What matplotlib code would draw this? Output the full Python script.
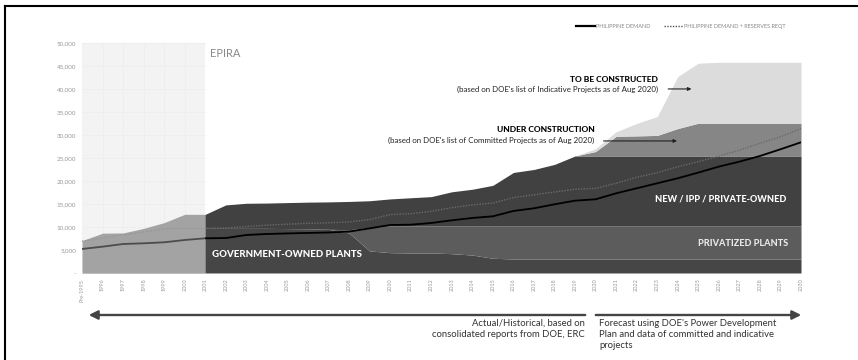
import numpy as np
import matplotlib.pyplot as plt
from matplotlib.lines import Line2D
from matplotlib.patches import Rectangle, FancyArrowPatch

plt.rcParams['font.family'] = ['Lato', 'DejaVu Sans']

# capacity / demand in MW
years = np.arange(1995, 2031)
pre_years = np.arange(1995, 2002)
post_years = np.arange(2001, 2031)

pre_epira_capacity = [7030, 8650, 8700, 9700, 10950, 12750, 12750]

government_owned = [9700, 9700, 9700, 9700, 9650, 9600, 9500, 8700, 4800, 4420,
                    4350, 4350, 4200, 3900, 3200, 3040, 3040, 3040, 3040, 3040,
                    3040, 3040, 3040, 3040, 3040, 3040, 3040, 3040, 3040, 3040]
privatized = [0, 0, 0, 0, 0, 0, 0, 700, 5100, 5800,
              5870, 5870, 6020, 6320, 7020, 7180, 7180, 7180, 7180, 7180,
              7180, 7180, 7180, 7180, 7180, 7180, 7180, 7180, 7180, 7180]
new_ipp = [3050, 5100, 5450, 5500, 5650, 5800, 5950, 6150, 5800, 5880,
           6130, 6380, 7430, 7980, 8830, 11630, 12280, 13380, 15210, 15210,
           15210, 15210, 15210, 15210, 15210, 15210, 15210, 15210, 15210, 15210]
under_construction = [0, 0, 0, 0, 0, 0, 0, 0, 0, 0,
                      0, 0, 0, 0, 0, 0, 0, 0, 0, 970,
                      4270, 4370, 4470, 5970, 7120, 7120, 7120, 7120, 7120, 7120]
to_be_constructed = [0, 0, 0, 0, 0, 0, 0, 0, 0, 0,
                     0, 0, 0, 0, 0, 0, 0, 0, 0, 600,
                     1000, 2700, 4100, 11300, 13050, 13250, 13250, 13250, 13250, 13250]

demand = [5220, 5720, 6300, 6450, 6670, 7170, 7540, 7600, 8260, 8480,
          8600, 8700, 8800, 9000, 9700, 10430, 10500, 10870, 11450, 11960,
          12320, 13480, 14060, 14930, 15720, 16020, 17320, 18410, 19500, 20590,
          21820, 23120, 24200, 25430, 26890, 28410]
demand_reserves = [6900, 7600, 8300, 8900, 9600, 9700, 9700, 9800, 10100, 10400,
                   10600, 10800, 10900, 11100, 11600, 12700, 12900, 13400, 14200, 14800,
                   15200, 16400, 17000, 17600, 18200, 18400, 19500, 20800, 21800, 23100,
                   24200, 25400, 26700, 28200, 29600, 31400]

x_labels = ['Pre-1995'] + [str(y) for y in range(1996, 2031)]

fig = plt.figure(figsize=(8.58, 3.6), dpi=100)
ax = fig.add_axes([0.0956, 0.2417, 0.838, 0.639])

# EPIRA background band with faint grid
ax.add_patch(Rectangle((1995, 0), 6, 50000, color='#efefef', zorder=0, lw=0))
for gy in range(5000, 50001, 5000):
    ax.plot([1995, 2001], [gy, gy], color='#e6e6e6', lw=0.5, zorder=0.5)
for gx in range(1996, 2001):
    ax.plot([gx, gx], [0, 50000], color='#e6e6e6', lw=0.5, zorder=0.5)

ax.fill_between(pre_years, 0, pre_epira_capacity, color='#7c7c7c', lw=0, zorder=1)

layers = [government_owned, privatized, new_ipp, under_construction, to_be_constructed]
colors = ['#464646', '#5c5c5c', '#414141', '#868686', '#dcdcdc']
base = np.zeros(len(post_years))
for vals, c in zip(layers, colors):
    top = base + np.array(vals)
    ax.fill_between(post_years, base, top, color=c, lw=0, zorder=2)
    base = top

ax.plot(years, demand, color='black', lw=1.3, zorder=4)
ax.plot(years, demand_reserves, color='#6a6a6a', lw=1.0, ls=(0, (1, 1)), zorder=4)

# fade over the pre-EPIRA years
ax.add_patch(Rectangle((1995, 0), 6, 50000, color='white', alpha=0.3, zorder=5, lw=0))

ax.set_xlim(1995, 2030)
ax.set_ylim(0, 50000)
ax.set_xticks(years)
ax.set_xticklabels(x_labels, rotation=90, fontsize=4, color='#999999')
ax.set_yticks(np.arange(0, 50001, 5000))
ax.set_yticklabels(['-'] + ['{:,}'.format(v) for v in range(5000, 50001, 5000)],
                   fontsize=4.5, color='#999999')
ax.tick_params(length=0, pad=4)
for s in ax.spines.values():
    s.set_visible(False)

ax.text(2001.25, 47800, 'EPIRA', fontsize=8, color='#8a8a8a', va='center')

ax.text(2023.05, 42000, 'TO BE CONSTRUCTED', fontsize=6.1, fontweight='black',
        ha='right', va='center', color='black', zorder=6)
ax.text(2023.05, 39800,
        "(based on DOE's list of Indicative Projects as of Aug 2020)",
        fontsize=5.7, ha='right', va='center', color='#222222', zorder=6)
ax.annotate('', xy=(2024.8, 40000), xytext=(2023.4, 40000),
            arrowprops=dict(arrowstyle='-|>', color='#222222', lw=0.8,
                            mutation_scale=5), zorder=6)

ax.text(2019.95, 31100, 'UNDER CONSTRUCTION', fontsize=6.1, fontweight='black',
        ha='right', va='center', color='black', zorder=6)
ax.text(2019.95, 28900,
        "(based on DOE's list of Committed Projects as of Aug 2020)",
        fontsize=5.7, ha='right', va='center', color='#222222', zorder=6)
ax.annotate('', xy=(2024.1, 28700), xytext=(2020.25, 28700),
            arrowprops=dict(arrowstyle='-|>', color='#222222', lw=0.8,
                            mutation_scale=5), zorder=6)

ax.text(2029.3, 16100, 'NEW / IPP / PRIVATE-OWNED', fontsize=6.6, fontweight='black',
        ha='right', va='center', color='white', zorder=6)
ax.text(2029.4, 6500, 'PRIVATIZED PLANTS', fontsize=6.6, fontweight='black',
        ha='right', va='center', color='#e8e8e8', zorder=6)
ax.text(2001.35, 4100, 'GOVERNMENT-OWNED PLANTS', fontsize=6.9, fontweight='black',
        ha='left', va='center', color='white', zorder=6)

handles = [Line2D([], [], color='black', lw=1.6),
           Line2D([], [], color='#555555', lw=1.0, ls=(0, (1, 1)))]
fig.legend(handles, ['PHILIPPINE DEMAND', 'PHILIPPINE DEMAND + RESERVES REQT'],
           loc='center right', bbox_to_anchor=(0.922, 0.926), ncol=2, frameon=False,
           fontsize=4, labelcolor='#888888', handlelength=3.3, handletextpad=0.3,
           columnspacing=2.5)

# frame lines on top / left
fig.add_artist(Line2D([5 / 858, 1], [354 / 360, 354 / 360], color='black', lw=1.5))
fig.add_artist(Line2D([4.5 / 858, 4.5 / 858], [0, 354 / 360], color='black', lw=1.5))

# bottom arrows + notes
arr_y = 1 - 315 / 360
fig.add_artist(FancyArrowPatch((588 / 858, arr_y), (86 / 858, arr_y), transform=fig.transFigure,
                               arrowstyle='-|>', mutation_scale=13, color='#444444', lw=1.7))
fig.add_artist(FancyArrowPatch((593 / 858, arr_y), (804 / 858, arr_y), transform=fig.transFigure,
                               arrowstyle='-|>', mutation_scale=13, color='#444444', lw=1.7))

fig.text(585 / 858, 1 - 319 / 360,
         'Actual/Historical, based on\nconsolidated reports from DOE, ERC',
         ha='right', va='top', fontsize=6.8, color='#333333', linespacing=1.25)
fig.text(599 / 858, 1 - 319 / 360,
         "Forecast using DOE's Power Development\nPlan and data of committed and indicative\nprojects",
         ha='left', va='top', fontsize=6.8, color='#333333', linespacing=1.25)

fig.savefig('out.png', dpi=100, facecolor='white')
